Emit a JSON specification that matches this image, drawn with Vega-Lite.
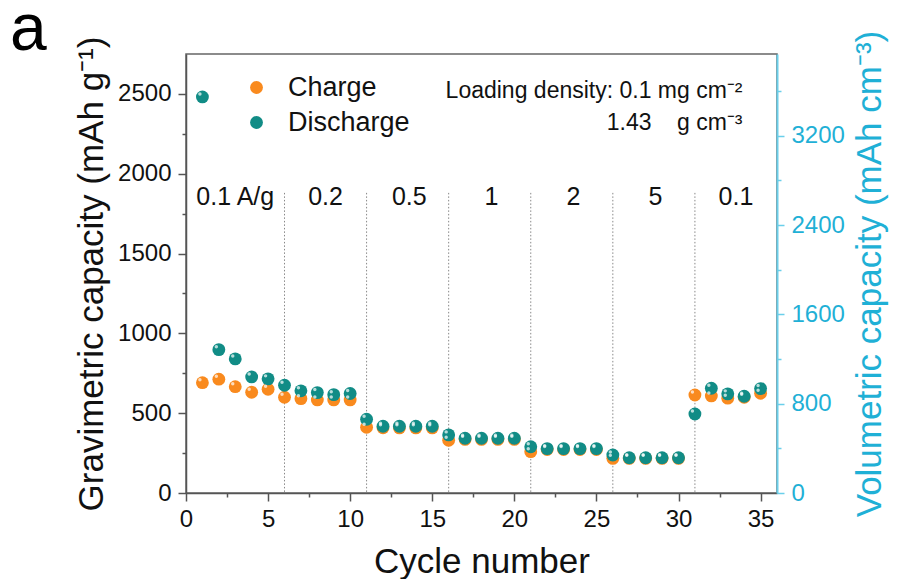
{
  "$schema": "https://vega.github.io/schema/vega-lite/v6.json",
  "width": 591,
  "height": 439,
  "autosize": {"type": "none"},
  "padding": {"left": 186, "top": 54, "right": 120, "bottom": 86},
  "background": "white",
  "title": {"text": "a", "anchor": "start", "frame": "group", "fontSize": 66, "fontWeight": "normal", "font": "Liberation Sans", "color": "#000", "dx": -176, "dy": 38, "offset": 4},
  "datasets": {
    "pts": [
      {"cycle": 1, "type": "Charge", "cap": 691}, {"cycle": 2, "type": "Charge", "cap": 713}, {"cycle": 3, "type": "Charge", "cap": 666}, {"cycle": 4, "type": "Charge", "cap": 631}, {"cycle": 5, "type": "Charge", "cap": 650},
      {"cycle": 6, "type": "Charge", "cap": 600}, {"cycle": 7, "type": "Charge", "cap": 591}, {"cycle": 8, "type": "Charge", "cap": 583}, {"cycle": 9, "type": "Charge", "cap": 583}, {"cycle": 10, "type": "Charge", "cap": 583},
      {"cycle": 11, "type": "Charge", "cap": 412}, {"cycle": 12, "type": "Charge", "cap": 409}, {"cycle": 13, "type": "Charge", "cap": 408}, {"cycle": 14, "type": "Charge", "cap": 408}, {"cycle": 15, "type": "Charge", "cap": 408},
      {"cycle": 16, "type": "Charge", "cap": 330}, {"cycle": 17, "type": "Charge", "cap": 336}, {"cycle": 18, "type": "Charge", "cap": 336}, {"cycle": 19, "type": "Charge", "cap": 336}, {"cycle": 20, "type": "Charge", "cap": 336},
      {"cycle": 21, "type": "Charge", "cap": 259}, {"cycle": 22, "type": "Charge", "cap": 272}, {"cycle": 23, "type": "Charge", "cap": 272}, {"cycle": 24, "type": "Charge", "cap": 272}, {"cycle": 25, "type": "Charge", "cap": 272},
      {"cycle": 26, "type": "Charge", "cap": 217}, {"cycle": 27, "type": "Charge", "cap": 217}, {"cycle": 28, "type": "Charge", "cap": 217}, {"cycle": 29, "type": "Charge", "cap": 217}, {"cycle": 30, "type": "Charge", "cap": 217},
      {"cycle": 31, "type": "Charge", "cap": 614}, {"cycle": 32, "type": "Charge", "cap": 608}, {"cycle": 33, "type": "Charge", "cap": 594}, {"cycle": 34, "type": "Charge", "cap": 600}, {"cycle": 35, "type": "Charge", "cap": 625},
      {"cycle": 1, "type": "Discharge", "cap": 2481}, {"cycle": 2, "type": "Discharge", "cap": 898}, {"cycle": 3, "type": "Discharge", "cap": 840}, {"cycle": 4, "type": "Discharge", "cap": 727}, {"cycle": 5, "type": "Discharge", "cap": 715},
      {"cycle": 6, "type": "Discharge", "cap": 675}, {"cycle": 7, "type": "Discharge", "cap": 640}, {"cycle": 8, "type": "Discharge", "cap": 629}, {"cycle": 9, "type": "Discharge", "cap": 616}, {"cycle": 10, "type": "Discharge", "cap": 623},
      {"cycle": 11, "type": "Discharge", "cap": 462}, {"cycle": 12, "type": "Discharge", "cap": 418}, {"cycle": 13, "type": "Discharge", "cap": 418}, {"cycle": 14, "type": "Discharge", "cap": 418}, {"cycle": 15, "type": "Discharge", "cap": 418},
      {"cycle": 16, "type": "Discharge", "cap": 364}, {"cycle": 17, "type": "Discharge", "cap": 343}, {"cycle": 18, "type": "Discharge", "cap": 343}, {"cycle": 19, "type": "Discharge", "cap": 343}, {"cycle": 20, "type": "Discharge", "cap": 343},
      {"cycle": 21, "type": "Discharge", "cap": 290}, {"cycle": 22, "type": "Discharge", "cap": 278}, {"cycle": 23, "type": "Discharge", "cap": 278}, {"cycle": 24, "type": "Discharge", "cap": 278}, {"cycle": 25, "type": "Discharge", "cap": 278},
      {"cycle": 26, "type": "Discharge", "cap": 238}, {"cycle": 27, "type": "Discharge", "cap": 221}, {"cycle": 28, "type": "Discharge", "cap": 221}, {"cycle": 29, "type": "Discharge", "cap": 221}, {"cycle": 30, "type": "Discharge", "cap": 221},
      {"cycle": 31, "type": "Discharge", "cap": 495}, {"cycle": 32, "type": "Discharge", "cap": 656}, {"cycle": 33, "type": "Discharge", "cap": 621}, {"cycle": 34, "type": "Discharge", "cap": 606}, {"cycle": 35, "type": "Discharge", "cap": 654}
    ],
    "div": [
      {"cycle": 6, "top": 1880}, {"cycle": 11, "top": 1880}, {"cycle": 16, "top": 1880}, {"cycle": 21, "top": 1880}, {"cycle": 26, "top": 1880}, {"cycle": 31, "top": 1880}
    ],
    "seg": [
      {"x": 3, "y": 1856, "label": "0.1 A/g"}, {"x": 8.5, "y": 1856, "label": "0.2"}, {"x": 13.6, "y": 1856, "label": "0.5"}, {"x": 18.6, "y": 1856, "label": "1"},
      {"x": 23.6, "y": 1856, "label": "2"}, {"x": 28.6, "y": 1856, "label": "5"}, {"x": 33.5, "y": 1856, "label": "0.1"}
    ],
    "note": [
      {"x": 33.9, "y": 2476, "label": "Loading density: 0.1 mg cm⁻²"},
      {"x": 33.9, "y": 2276, "label": "1.43\u00a0\u00a0\u00a0\u00a0g cm⁻³"}
    ]
  },
  "resolve": {"scale": {"y": "independent"}, "axis": {"x": "independent", "y": "independent"}},
  "layer": [
    {
      "data": {"name": "div"},
      "mark": {"type": "rule", "strokeDash": [1.5, 2], "color": "#888", "strokeWidth": 1},
      "encoding": {
        "x": {"field": "cycle", "type": "quantitative", "scale": {"domain": [0, 36], "nice": false},
              "axis": {"orient": "bottom", "values": [2.5, 7.5, 12.5, 17.5, 22.5, 27.5, 32.5], "labels": false, "domain": false, "tickSize": 4, "title": null, "grid": false}},
        "y": {"field": "top", "type": "quantitative", "scale": {"domain": [0, 2750], "nice": false},
              "axis": {"orient": "left", "values": [250, 750, 1250, 1750, 2250], "labels": false, "domain": false, "tickSize": 4, "title": null, "grid": false}},
        "y2": {"datum": 0}
      }
    },
    {
      "data": {"name": "pts"},
      "mark": {"type": "circle", "size": 165, "opacity": 1},
      "encoding": {
        "x": {"field": "cycle", "type": "quantitative", "scale": {"domain": [0, 36], "nice": false},
              "axis": {"orient": "bottom", "values": [0, 5, 10, 15, 20, 25, 30, 35], "format": "d", "tickSize": 8, "labelPadding": 6, "title": "Cycle number", "titleFontSize": 35, "titlePadding": 13, "labelFlush": false, "labelOverlap": false}},
        "y": {"field": "cap", "type": "quantitative", "scale": {"domain": [0, 2750], "nice": false},
              "axis": {"orient": "left", "values": [0, 500, 1000, 1500, 2000, 2500], "format": "d", "tickSize": 8, "labelPadding": 7, "title": "Gravimetric capacity (mAh g⁻¹)", "titleFontSize": 35, "titlePadding": 8, "labelFlush": false, "labelOverlap": false}},
        "color": {"field": "type", "type": "nominal", "scale": {"domain": ["Charge", "Discharge"], "range": ["#F98A1E", "#118C86"]},
                  "legend": {"orient": "none", "legendX": 57, "legendY": 20, "title": null, "symbolType": "circle", "symbolSize": 165, "symbolOpacity": 1, "labelFontSize": 27, "labelFont": "Liberation Sans", "labelColor": "#111", "labelOffset": 18, "rowPadding": 7, "padding": 0}},
        "order": {"field": "type", "sort": "ascending"}
      }
    },
    {
      "data": {"name": "pts"},
      "mark": {"type": "circle", "size": 12, "color": "white", "opacity": 0.7, "xOffset": -2.5, "yOffset": -3},
      "encoding": {
        "x": {"field": "cycle", "type": "quantitative", "scale": {"domain": [0, 36], "nice": false}, "axis": null},
        "y": {"field": "cap", "type": "quantitative", "scale": {"domain": [0, 2750], "nice": false}, "axis": null}
      }
    },
    {
      "data": {"name": "seg"},
      "mark": {"type": "text", "fontSize": 25, "font": "Liberation Sans", "color": "#111", "align": "center", "baseline": "middle"},
      "encoding": {
        "x": {"field": "x", "type": "quantitative", "scale": {"domain": [0, 36], "nice": false}, "axis": null},
        "y": {"field": "y", "type": "quantitative", "scale": {"domain": [0, 2750], "nice": false}, "axis": null},
        "text": {"field": "label"}
      }
    },
    {
      "data": {"name": "note"},
      "mark": {"type": "text", "fontSize": 23, "font": "Liberation Sans", "color": "#111", "align": "right", "baseline": "alphabetic"},
      "encoding": {
        "x": {"field": "x", "type": "quantitative", "scale": {"domain": [0, 36], "nice": false}, "axis": null},
        "y": {"field": "y", "type": "quantitative", "scale": {"domain": [0, 2750], "nice": false}, "axis": null},
        "text": {"field": "label"}
      }
    },
    {
      "data": {"name": "pts"},
      "mark": {"type": "point", "opacity": 0},
      "encoding": {
        "x": {"field": "cycle", "type": "quantitative", "scale": {"domain": [0, 36], "nice": false}, "axis": null},
        "y": {"field": "cap", "type": "quantitative", "scale": {"domain": [0, 3932.5], "nice": false},
              "axis": {"orient": "right", "values": [0, 800, 1600, 2400, 3200], "format": "d", "tickSize": 7, "labelPadding": 7, "title": "Volumetric capacity (mAh cm⁻³)", "titleFontSize": 35, "titleAngle": -90, "titleBaseline": "top", "titlePadding": 8, "domainColor": "#6ACFEA", "domainWidth": 2, "tickColor": "#6ACFEA", "labelColor": "#1FB0D6", "titleColor": "#1FB0D6", "labelFlush": false, "labelOverlap": false}}
      }
    },
    {
      "data": {"name": "pts"},
      "mark": {"type": "point", "opacity": 0},
      "encoding": {
        "x": {"field": "cycle", "type": "quantitative", "scale": {"domain": [0, 36], "nice": false}, "axis": null},
        "y": {"field": "cap", "type": "quantitative", "scale": {"domain": [0, 3932.5], "nice": false},
              "axis": {"orient": "right", "values": [400, 1200, 2000, 2800, 3600], "labels": false, "domain": false, "tickSize": 4, "title": null, "tickColor": "#6ACFEA", "grid": false}}
      }
    }
  ],
  "config": {
    "font": "Liberation Sans",
    "view": {"stroke": "#666", "strokeWidth": 1.5},
    "axis": {"grid": false, "domainColor": "#555", "domainWidth": 1.5, "tickColor": "#555", "tickWidth": 1.5, "labelFont": "Liberation Sans", "titleFont": "Liberation Sans", "labelFontSize": 24, "titleFontSize": 33, "titleFontWeight": "normal", "labelColor": "#111", "titleColor": "#111"}
  }
}
